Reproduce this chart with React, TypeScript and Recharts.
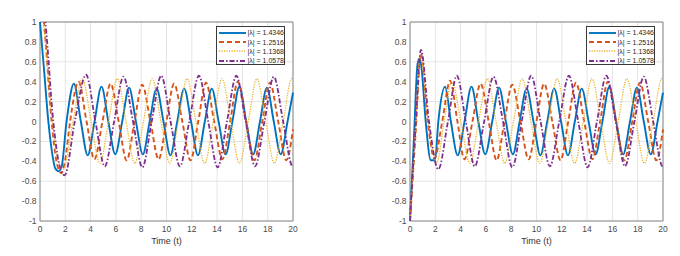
import { LineChart, Line, XAxis, YAxis, CartesianGrid, ReferenceArea } from "recharts";

const X_TICKS = [0, 2, 4, 6, 8, 10, 12, 14, 16, 18, 20];
const Y_TICKS = [-1, -0.8, -0.6, -0.4, -0.2, 0, 0.2, 0.4, 0.6, 0.8, 1];
const LABELS = ["|λ| = 1.4346", "|λ| = 1.2516", "|λ| = 1.1368", "|λ| = 1.0578"];

// oscillation after the start-up, same in both panels
const blueT = [3.23, 3.77, 4.31, 4.86, 5.4, 5.95, 6.5, 7.04, 7.58, 8.13, 8.67, 9.22, 9.76, 10.31, 10.85, 11.4, 11.94, 12.49, 13.03, 13.58, 14.12, 14.67, 15.21, 15.76, 16.3, 16.85, 17.39, 17.94, 18.48, 19.03, 19.57, 20];
const blueV = [0, -0.34, 0, 0.35, 0, -0.33, 0, 0.34, 0, -0.33, 0, 0.33, 0, -0.34, 0, 0.33, 0, -0.34, 0, 0.33, 0, -0.33, 0, 0.35, 0, -0.33, 0, 0.34, 0, -0.33, 0, 0.29];
const redT = [4.3, 4.94, 5.58, 6.22, 6.85, 7.47, 8.08, 8.73, 9.38, 9.99, 10.6, 11.25, 11.9, 12.51, 13.12, 13.77, 14.42, 15.03, 15.64, 16.3, 16.95, 17.57, 18.18, 18.83, 19.47, 20];
const redV = [-0.38, 0, 0.38, 0, -0.39, 0, 0.37, 0, -0.38, 0, 0.38, 0, -0.39, 0, 0.39, 0, -0.38, 0, 0.4, 0, -0.39, 0, 0.39, 0, -0.39, -0.08];
const yellowT = [4.73, 5.42, 6.11, 6.8, 7.49, 8.18, 8.87, 9.56, 10.25, 10.94, 11.63, 12.32, 13.01, 13.7, 14.39, 15.08, 15.77, 16.46, 17.15, 17.84, 18.53, 19.22, 19.91, 20];
const yellowV = [-0.42, 0, 0.43, 0, -0.42, 0, 0.43, 0, -0.42, 0, 0.43, 0, -0.42, 0, 0.43, 0, -0.42, 0, 0.43, 0, -0.42, 0, 0.43, 0.43];
const purpleT = [5.12, 5.86, 6.6, 7.35, 8.09, 8.83, 9.58, 10.32, 11.06, 11.8, 12.56, 13.3, 14.04, 14.78, 15.52, 16.26, 17.0, 17.74, 18.48, 19.22, 19.97, 20];
const purpleV = [-0.45, 0, 0.45, 0, -0.46, 0, 0.46, 0, -0.45, 0, 0.46, 0, -0.46, 0, 0.46, 0, -0.45, 0, 0.45, 0, -0.45, -0.45];

// start-up, left panel (from +1)
const blueLeftT = [0, 0.3, 0.66, 1.0, 1.2, 1.45, 1.7, 2.1, 2.68];
const blueLeftV = [1, 0.55, 0, -0.35, -0.47, -0.5, -0.46, 0, 0.38];
const redLeftT = [0, 0.3, 0.92, 1.3, 1.68, 2.0, 2.38, 3.05, 3.68];
const redLeftV = [1.25, 1.0, 0, -0.4, -0.52, -0.38, 0, 0.4, 0];
const yellowLeftT = [0, 0.25, 0.98, 1.4, 1.85, 2.6, 3.35, 4.04];
const yellowLeftV = [1.2, 1.0, 0, -0.38, -0.48, 0, 0.43, 0];
const purpleLeftT = [0, 0.42, 1.05, 1.5, 1.95, 2.75, 3.64, 4.38];
const purpleLeftV = [1.35, 1.0, 0, -0.42, -0.54, 0, 0.47, 0];

// start-up, right panel (from -1)
const blueRightT = [0, 0.3, 0.6, 0.75, 0.9, 1.24, 1.65, 1.98, 2.24, 2.77];
const blueRightV = [-1, -0.2, 0.58, 0.63, 0.55, 0, -0.39, -0.39, 0, 0.35];
const redRightT = [0, 0.45, 0.85, 1.4, 1.93, 2.55, 3.17, 3.75];
const redRightV = [-1, -0.1, 0.68, 0, -0.37, 0, 0.41, 0];
const yellowRightT = [0, 0.45, 0.82, 1.45, 2.11, 2.7, 3.3, 4.02];
const yellowRightV = [-1, -0.08, 0.66, 0, -0.41, 0, 0.4, 0];
const purpleRightT = [0, 0.45, 0.87, 1.5, 2.24, 3.0, 3.7, 4.41];
const purpleRightV = [-1, -0.02, 0.72, 0, -0.48, 0, 0.46, 0];

const zip = (ts: number[], vs: number[]) => ts.map((t, i) => ({ t, v: vs[i] }));

const SERIES = [
  { color: "#0072BD", width: 1.9, dash: undefined, left: [blueLeftT, blueLeftV], right: [blueRightT, blueRightV], steady: [blueT, blueV] },
  { color: "#D95319", width: 1.9, dash: "5 3", left: [redLeftT, redLeftV], right: [redRightT, redRightV], steady: [redT, redV] },
  { color: "#EDB120", width: 1.3, dash: "1.2 1.3", left: [yellowLeftT, yellowLeftV], right: [yellowRightT, yellowRightV], steady: [yellowT, yellowV] },
  { color: "#7E2F8E", width: 1.8, dash: "5 2 1.5 2", left: [purpleLeftT, purpleLeftV], right: [purpleRightT, purpleRightV], steady: [purpleT, purpleV] },
];

const FONT = "'Liberation Sans', Arial, sans-serif";
const TEXT = "#4a4a4a";

function LegendBox() {
  return (
    <div
      style={{
        position: "absolute",
        left: 216,
        top: 26,
        width: 69,
        height: 39,
        border: "1px solid #3a3a3a",
        background: "#fff",
        boxSizing: "border-box",
        paddingTop: 1,
      }}
    >
      {SERIES.map((s, i) => (
        <div key={i} style={{ display: "flex", alignItems: "center", height: 9.4 }}>
          <svg width={30} height={6} style={{ marginLeft: 2 }}>
            <line x1={0} y1={3} x2={27} y2={3} stroke={s.color} strokeWidth={s.width} strokeDasharray={s.dash} />
          </svg>
          <span style={{ fontSize: 7, color: "#262626", fontFamily: FONT, whiteSpace: "nowrap" }}>{LABELS[i]}</span>
        </div>
      ))}
    </div>
  );
}

function Panel({ side, width }: { side: "left" | "right"; width: number }) {
  return (
    <div style={{ position: "absolute", left: side === "left" ? 0 : 370, top: 0 }}>
      <LineChart width={width} height={256} margin={{ top: 22, right: width - 293, bottom: 5, left: 10 }}>
        <CartesianGrid stroke="#e4e4e4" />
        <XAxis
          dataKey="t"
          type="number"
          domain={[0, 20]}
          ticks={X_TICKS}
          height={30}
          axisLine={false}
          tickLine={false}
          tickSize={3}
          tickMargin={2}
          tick={{ fontSize: 8.5, fill: TEXT, fontFamily: FONT }}
          label={{ value: "Time (t)", position: "insideBottom", offset: 7, fontSize: 9, fill: "#333", fontFamily: FONT }}
        />
        <YAxis
          type="number"
          domain={[-1, 1]}
          ticks={Y_TICKS}
          allowDataOverflow
          width={30}
          axisLine={false}
          tickLine={false}
          tickSize={2}
          tickMargin={1.5}
          tick={{ fontSize: 8.5, fill: TEXT, fontFamily: FONT }}
        />
        <ReferenceArea x1={0} x2={20} y1={-1} y2={1} fill="none" stroke="#8a8a8a" strokeWidth={1} />
        {SERIES.map((s, i) => {
          const start = side === "left" ? s.left : s.right;
          const data = [...zip(start[0], start[1]), ...zip(s.steady[0], s.steady[1])];
          return (
            <Line
              key={i}
              data={data}
              dataKey="v"
              type="monotone"
              stroke={s.color}
              strokeWidth={s.width}
              strokeDasharray={s.dash}
              dot={false}
              isAnimationActive={false}
            />
          );
        })}
      </LineChart>
      <LegendBox />
    </div>
  );
}

export default function App() {
  return (
    <div style={{ position: "absolute", left: 0, top: 0, width: 680, height: 256, background: "#fff", overflow: "hidden" }}>
      <Panel side="left" width={340} />
      <Panel side="right" width={310} />
    </div>
  );
}
